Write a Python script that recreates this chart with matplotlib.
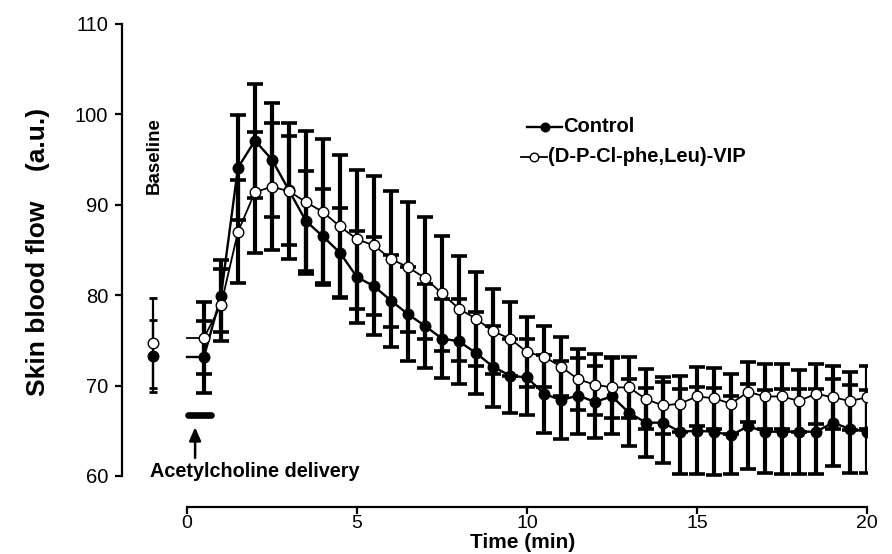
import matplotlib
matplotlib.use("Agg")
import matplotlib.pyplot as plt
from matplotlib.lines import Line2D

# ---------------- data ----------------
times = [0.5, 1.0, 1.5, 2.0, 2.5, 3.0, 3.5, 4.0, 4.5, 5.0,
         5.5, 6.0, 6.5, 7.0, 7.5, 8.0, 8.5, 9.0, 9.5, 10.0,
         10.5, 11.0, 11.5, 12.0, 12.5, 13.0, 13.5, 14.0, 14.5, 15.0,
         15.5, 16.0, 16.5, 17.0, 17.5, 18.0, 18.5, 19.0, 19.5, 20.0]
control = [73.2, 79.9, 94.1, 97.1, 95.0, 91.6, 88.2, 86.5, 84.7, 82.0,
           81.0, 79.4, 77.9, 76.6, 75.2, 74.9, 73.6, 72.1, 71.1, 70.9,
           69.1, 68.4, 68.9, 68.2, 68.8, 67.0, 65.9, 65.9, 64.9, 65.0,
           64.9, 64.5, 65.5, 64.9, 64.9, 64.9, 64.9, 65.9, 65.2, 64.9]
control_err = [4.0, 4.0, 5.8, 6.3, 6.3, 6.0, 5.5, 5.2, 4.9, 5.1,
               5.4, 5.1, 5.2, 4.6, 4.4, 4.7, 4.5, 4.5, 4.1, 4.2,
               4.3, 4.3, 4.2, 4.0, 4.2, 3.7, 3.8, 4.5, 4.7, 4.8,
               4.8, 4.3, 4.7, 4.6, 4.7, 4.7, 4.7, 4.8, 4.9, 4.6]
vip = [75.3, 78.9, 87.0, 91.4, 92.0, 91.5, 90.3, 89.2, 87.6, 86.2,
       85.5, 84.0, 83.1, 81.9, 80.2, 78.5, 77.4, 76.0, 75.2, 73.7,
       73.2, 72.1, 70.7, 70.1, 69.8, 69.8, 68.5, 67.8, 68.0, 68.8,
       68.6, 68.0, 69.3, 68.8, 68.8, 68.3, 69.1, 68.7, 68.3, 68.7]
vip_err = [4.0, 4.0, 5.7, 6.7, 7.0, 7.5, 7.9, 8.1, 7.9, 7.7,
           7.7, 7.5, 7.2, 6.8, 6.4, 5.8, 5.2, 4.7, 4.1, 3.9,
           3.4, 3.3, 3.4, 3.4, 3.4, 3.4, 3.3, 3.1, 3.1, 3.3,
           3.4, 3.3, 3.3, 3.6, 3.6, 3.4, 3.3, 3.5, 3.2, 3.5]
baseline_time = -1.0
baseline_control = 73.3
baseline_control_err = 4.0
baseline_vip = 74.7
baseline_vip_err = 5.0

x_ticks = [0, 5, 10, 15, 20]
y_ticks = [60, 70, 80, 90, 100, 110]
series_labels = ["Control", "(D-P-Cl-phe,Leu)-VIP"]

plt.rcParams["font.family"] = ["Liberation Sans", "DejaVu Sans"]

W, H = 892, 554
fig = plt.figure(figsize=(W / 100, H / 100), dpi=100)
ax = fig.add_axes([122 / W, 1 - 476 / H, 745 / W, 452 / H])
ax.set_xlim(-1.91, 20)
ax.set_ylim(60, 110)

# error bars
eb_kw = dict(fmt="none", ecolor="black", elinewidth=3.0, capsize=5.6,
             capthick=2.6, zorder=2)
ax.errorbar(times, control, yerr=control_err, **eb_kw)
ax.errorbar(times, vip, yerr=vip_err, **eb_kw)
bl_kw = dict(fmt="none", ecolor="black", elinewidth=1.6, capsize=2.8,
             capthick=2.0, zorder=2)
ax.errorbar([baseline_time], [baseline_control], yerr=[baseline_control_err], **bl_kw)
ax.errorbar([baseline_time], [baseline_vip], yerr=[baseline_vip_err], **bl_kw)

# lines + markers
ax.plot(times, control, color="black", lw=1.7, marker="o", ms=7.6,
        mfc="black", mec="black", zorder=3)
ax.plot(times, vip, color="black", lw=1.3, marker="o", ms=7.6,
        mfc="white", mec="black", mew=1.0, zorder=4)
ax.plot([0.0, times[0]], [control[0], control[0]], color="black", lw=1.7, zorder=3)
ax.plot([0.0, times[0]], [vip[0], vip[0]], color="black", lw=1.3, zorder=3)
ax.plot([baseline_time], [baseline_control], "o", color="black", ms=7.6, zorder=3)
ax.plot([baseline_time], [baseline_vip], "o", mfc="white", mec="black",
        mew=1.0, ms=7.6, zorder=4)

# acetylcholine delivery bar + arrow
ax.plot([0.02, 0.72], [66.75, 66.75], color="black", lw=4.8,
        solid_capstyle="round", clip_on=False, zorder=3)
ax.annotate("", xy=(0.24, 65.4), xytext=(0.24, 62.0),
            arrowprops=dict(arrowstyle="-|>,head_length=0.8,head_width=0.35",
                            color="black", lw=1.8, shrinkA=0, shrinkB=0),
            annotation_clip=False)
ax.text(2.0, 60.5, "Acetylcholine delivery", ha="center", va="center",
        fontsize=14.3, fontweight="bold", clip_on=False)
ax.text(-0.96, 95.4, "Baseline", rotation=90, ha="center", va="center",
        fontsize=13.5, fontweight="bold")

# spines / ticks
for s in ["top", "right"]:
    ax.spines[s].set_visible(False)
ax.spines["left"].set_linewidth(1.6)
ax.spines["bottom"].set_linewidth(1.6)
ax.spines["bottom"].set_position(("outward", 22))
ax.spines["bottom"].set_bounds(0, 20)
ax.set_xticks(x_ticks)
ax.set_yticks(y_ticks)
ax.set_xticklabels([str(v) for v in x_ticks], fontsize=14)
ax.set_yticklabels([str(v) for v in y_ticks], fontsize=14.5)
ax.tick_params(axis="both", direction="out", length=5, width=1.6)
ax.tick_params(axis="x", pad=1.0)
ax.tick_params(axis="y", pad=5)

fig.text(38 / W, 1 - 252 / H, "Skin blood flow    (a.u.)", rotation=90,
         ha="center", va="center", fontsize=19, fontweight="bold")
fig.text(523 / W, 1 - 543 / H, "Time (min)", ha="center", va="center",
         fontsize=15, fontweight="bold")

# legend (drawn entry by entry, as in the reference)
legend_rows = [
    dict(x0=527, x1=562, y=127, mfc="black", lw=1.7),
    dict(x0=521, x1=547, y=157, mfc="white", lw=1.3),
]
for row, label in zip(legend_rows, series_labels):
    yy = 1 - row["y"] / H
    fig.add_artist(Line2D([row["x0"] / W, row["x1"] / W], [yy, yy],
                          color="black", lw=row["lw"], transform=fig.transFigure))
    fig.add_artist(Line2D([(row["x0"] + row["x1"]) / 2 / W], [yy], marker="o",
                          ms=6.2, mfc=row["mfc"], mec="black", mew=1.0,
                          linestyle="none", transform=fig.transFigure))
    fig.text(row["x1"] / W + 0.001, yy, label, ha="left", va="center",
             fontsize=14.5, fontweight="bold")

fig.savefig("out.png", dpi=100)
